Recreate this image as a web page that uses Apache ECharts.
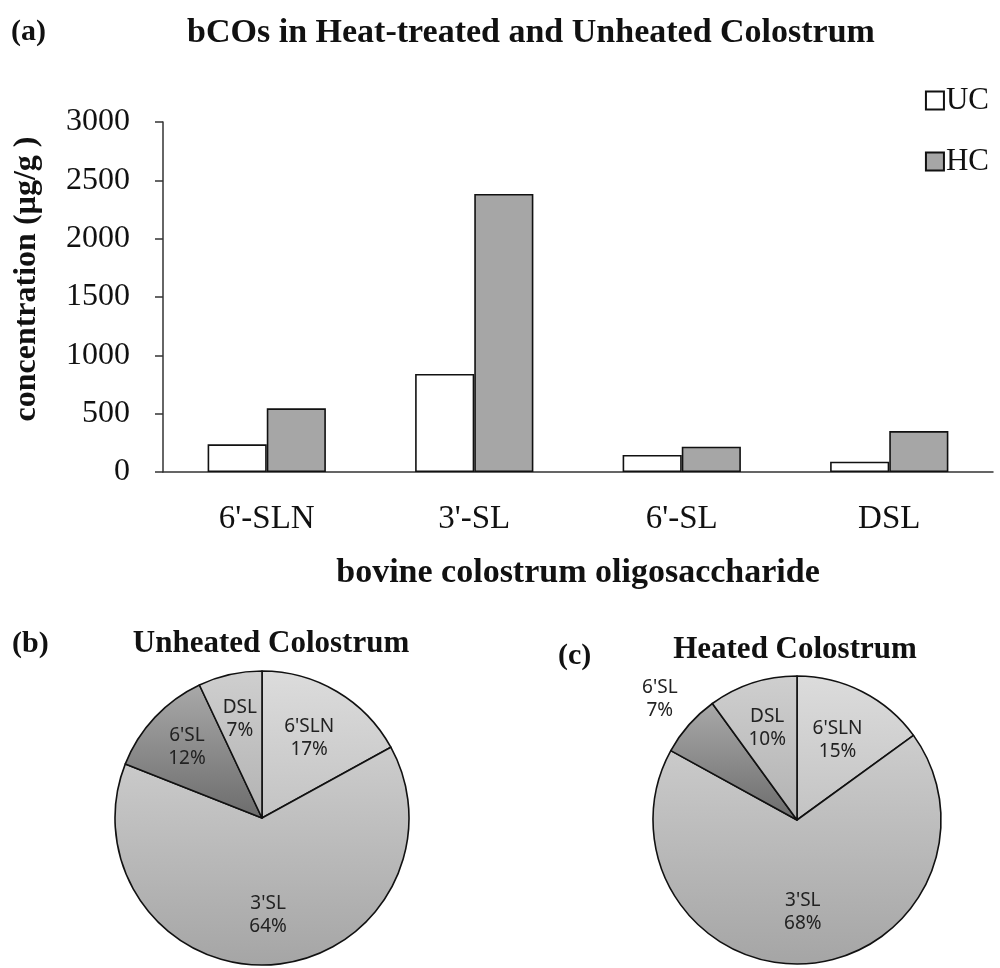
<!DOCTYPE html>
<html>
<head>
<meta charset="utf-8">
<script src="https://cdn.jsdelivr.net/npm/echarts@6/dist/echarts.min.js"></script>
<style>
  html, body { margin: 0; padding: 0; background: #ffffff; }
  #chart { width: 1000px; height: 968px; }
</style>
</head>
<body>
<div id="chart"></div>
<script>
// Oligosaccharide categories and measured concentrations (µg/g)
const categories = ["6'-SLN", "3'-SL", "6'-SL", "DSL"];
const ucValues = [237, 840, 146, 88];
const hcValues = [546, 2383, 217, 351];
const yTicks = [0, 500, 1000, 1500, 2000, 2500, 3000];

// Composition shares (%) used by the two pies
const pieNames = ["6'SLN", "3'SL", "6'SL", "DSL"];
const ucShares = [17, 64, 12, 7];
const hcShares = [15, 68, 7, 10];

const SERIF = 'Liberation Serif';
const SANS = 'Noto Sans';

// Pie geometry and how far out (fraction of radius) each slice label sits
const pieGeom = [
  { center: [262, 818], radius: 147, reach: [0.63, 0.66, 0.70, 0.69] },
  { center: [797, 820], radius: 144, reach: [0.62, 0.64, 1.27, 0.67] }
];

// Slice fills: light-to-dark vertical gradients
const sliceFills = [
  ['#dcdcdc', '#c3c3c3'],
  ['#cdcdcd', '#a5a5a5'],
  ['#a9a9a9', '#6c6c6c'],
  ['#cfcfcf', '#b2b2b2']
];

function gradient(pair) {
  return {
    type: 'linear', x: 0, y: 0, x2: 0, y2: 1,
    colorStops: [{ offset: 0, color: pair[0] }, { offset: 1, color: pair[1] }]
  };
}

function pieData(shares) {
  return shares.map((v, i) => ({
    name: pieNames[i],
    value: v,
    itemStyle: { color: gradient(sliceFills[i]) }
  }));
}

function pieLabelLayout(geomIndex, shares) {
  const g = pieGeom[geomIndex];
  const total = shares.reduce((a, b) => a + b, 0);
  return function (params) {
    const i = params.dataIndex;
    let before = 0;
    for (let k = 0; k < i; k++) before += shares[k];
    const mid = (before + shares[i] / 2) / total * Math.PI * 2;
    const r = g.radius * g.reach[i];
    return {
      x: g.center[0] + r * Math.sin(mid),
      y: g.center[1] - r * Math.cos(mid),
      align: 'center',
      verticalAlign: 'middle'
    };
  };
}

function pieSeries(geomIndex, shares) {
  const g = pieGeom[geomIndex];
  return {
    type: 'pie',
    center: g.center,
    radius: g.radius,
    startAngle: 90,
    clockwise: true,
    silent: true,
    animation: false,
    data: pieData(shares),
    itemStyle: { borderColor: '#111', borderWidth: 1.6 },
    label: {
      show: true,
      position: 'inside',
      formatter: '{b}\n{c}%',
      fontFamily: SANS,
      fontSize: 19,
      lineHeight: 23,
      color: '#222'
    },
    labelLine: { show: false },
    labelLayout: pieLabelLayout(geomIndex, shares),
    emphasis: { disabled: true }
  };
}

const chart = echarts.init(document.getElementById('chart'), null, { renderer: 'canvas' });

const boldTitle = (text, left, top, size) => ({
  text: text,
  left: left,
  top: top,
  textAlign: 'center',
  textStyle: { fontFamily: SERIF, fontWeight: 'bold', fontSize: size, color: '#111' }
});

chart.setOption({
  backgroundColor: '#ffffff',
  animation: false,
  title: [
    { text: '(a)', left: 6, top: 12, textStyle: { fontFamily: SERIF, fontWeight: 'bold', fontSize: 30, color: '#111' } },
    boldTitle('bCOs in Heat-treated and Unheated Colostrum', 526, 11, 34),
    { text: '(b)', left: 7, top: 624, textStyle: { fontFamily: SERIF, fontWeight: 'bold', fontSize: 30, color: '#111' } },
    boldTitle('Unheated Colostrum', 266, 623, 31),
    { text: '(c)', left: 553, top: 636, textStyle: { fontFamily: SERIF, fontWeight: 'bold', fontSize: 30, color: '#111' } },
    boldTitle('Heated Colostrum', 790, 629, 31)
  ],
  legend: {
    orient: 'vertical',
    right: 6,
    top: 80,
    itemWidth: 18,
    itemHeight: 18,
    itemGap: 30,
    selectedMode: false,
    icon: 'rect',
    textStyle: { fontFamily: SERIF, fontSize: 31, color: '#111', padding: [0, 0, 0, -3] },
    data: ['UC', 'HC']
  },
  grid: { left: 163, right: 7, top: 122, bottom: 496, containLabel: false },
  xAxis: {
    type: 'category',
    data: categories,
    name: 'bovine colostrum oligosaccharide',
    nameLocation: 'middle',
    nameGap: 84,
    nameTextStyle: { fontFamily: SERIF, fontWeight: 'bold', fontSize: 34, color: '#111' },
    axisLine: { show: true, lineStyle: { color: '#333', width: 1.5 } },
    axisTick: { show: false },
    axisLabel: { fontFamily: SERIF, fontSize: 33, color: '#111', margin: 31 }
  },
  yAxis: {
    type: 'value',
    min: yTicks[0],
    max: yTicks[yTicks.length - 1],
    interval: yTicks[1] - yTicks[0],
    name: 'concentration (µg/g )',
    nameLocation: 'middle',
    nameGap: 120,
    nameTextStyle: { fontFamily: SERIF, fontWeight: 'bold', fontSize: 32, color: '#111', padding: [0, 0, 0, 36] },
    axisLine: { show: true, lineStyle: { color: '#333', width: 1.5 } },
    axisTick: { show: true, inside: false, length: 8, lineStyle: { color: '#333', width: 1.5 } },
    splitLine: { show: false },
    axisLabel: {
      fontFamily: SERIF, fontSize: 32, color: '#111', margin: 33,
      formatter: (v) => String(v)
    }
  },
  series: [
    {
      name: 'UC',
      type: 'bar',
      data: ucValues,
      barGap: '0%',
      barCategoryGap: '43%',
      itemStyle: { color: '#ffffff', borderColor: '#111', borderWidth: 1.6 },
      emphasis: { disabled: true }
    },
    {
      name: 'HC',
      type: 'bar',
      data: hcValues,
      itemStyle: { color: '#a6a6a6', borderColor: '#111', borderWidth: 1.6 },
      emphasis: { disabled: true }
    },
    pieSeries(0, ucShares),
    pieSeries(1, hcShares)
  ]
});
</script>
</body>
</html>
